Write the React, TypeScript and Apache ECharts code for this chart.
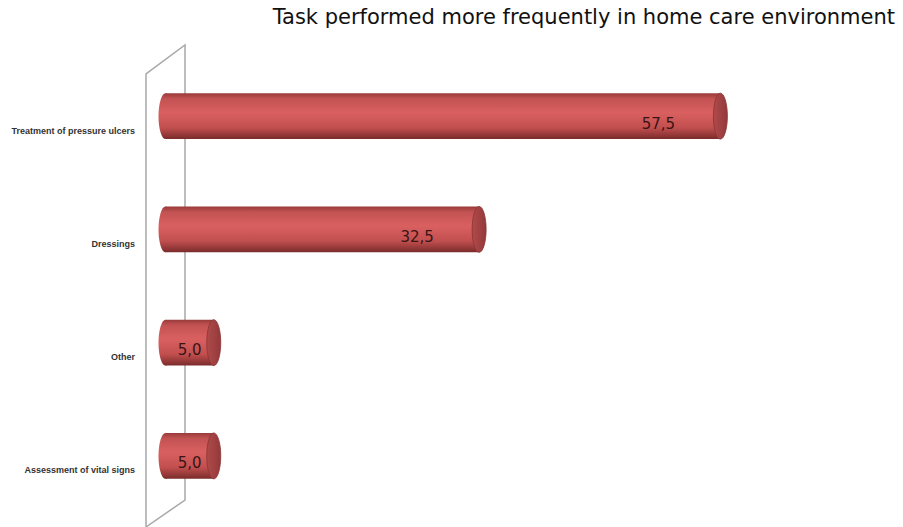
import React, { useEffect, useRef } from "react";
import * as echarts from "echarts";

const titleText = "Task performed more frequently in home care environment";
const categories = [
  "Treatment of pressure ulcers",
  "Dressings",
  "Other",
  "Assessment of vital signs",
];
const values = [57.5, 32.5, 5.0, 5.0];
const valueLabels = ["57,5", "32,5", "5,0", "5,0"];

export default function App() {
  const ref = useRef<HTMLDivElement>(null);
  useEffect(() => {
    if (!ref.current) return;
    const chart = echarts.init(ref.current, null, { renderer: "svg" });
    const depthX = 19.5;
    const depthY = -14.5;
    const bodyGrad = () =>
      new echarts.graphic.LinearGradient(0, 0, 0, 1, [
        { offset: 0, color: "#983a3a" },
        { offset: 0.12, color: "#c25252" },
        { offset: 0.42, color: "#da6060" },
        { offset: 0.75, color: "#c24f4f" },
        { offset: 1, color: "#7a2b2b" },
      ]);
    const capGrad = () =>
      new echarts.graphic.LinearGradient(0, 0, 1, 0, [
        { offset: 0, color: "#b04a4a" },
        { offset: 1, color: "#93393b" },
      ]);
    const option: any = {
      animation: false,
      title: {
        text: titleText,
        right: 3,
        top: 1,
        textStyle: {
          fontFamily: "DejaVu Sans",
          fontSize: 21,
          fontWeight: "normal",
          color: "#111",
        },
      },
      grid: { left: 146, top: 74, height: 454, width: 579 },
      xAxis: { type: "value", min: 0, max: 60, show: false },
      yAxis: {
        type: "category",
        inverse: true,
        data: categories,
        axisLine: { show: false },
        axisTick: { show: false },
        splitLine: { show: false },
        axisLabel: {
          margin: 11,
          fontSize: 9,
          fontWeight: "bold",
          fontFamily: "Liberation Sans",
          color: "#333",
        },
      },
      graphic: [
        {
          type: "polyline",
          z: 0,
          shape: { points: [[146, 527], [146, 74], [185, 45], [185, 500], [146, 527]] },
          style: { stroke: "#a8a8a8", lineWidth: 1.5, fill: "none" },
        },
      ],
      series: [
        {
          type: "custom",
          z: 5,
          data: values.map((v, i) => [v, i]),
          encode: { x: 0, y: 1 },
          renderItem: (params: any, api: any) => {
            const v = api.value(0);
            const idx = api.value(1);
            const s = api.coord([0, idx]);
            const e = api.coord([v, idx]);
            const band = api.size([0, 1])[1];
            const ry = band * 0.203;
            const rx = 7;
            const x0 = s[0] + depthX;
            const x1 = e[0] + depthX;
            const cy = s[1] + depthY;
            const len = x1 - x0;
            const labelX = x0 + Math.max(len * 0.5, len - 62);
            return {
              type: "group",
              children: [
                {
                  type: "ellipse",
                  shape: { cx: x0, cy, rx, ry },
                  style: { fill: bodyGrad() },
                },
                {
                  type: "rect",
                  shape: { x: x0, y: cy - ry, width: len, height: ry * 2 },
                  style: { fill: bodyGrad() },
                },
                {
                  type: "ellipse",
                  shape: { cx: x1, cy, rx, ry },
                  style: { fill: capGrad(), stroke: "#8a3334", lineWidth: 0.8 },
                },
                {
                  type: "text",
                  style: {
                    x: labelX,
                    y: cy + 7.5,
                    text: valueLabels[params.dataIndex],
                    fill: "#3a1414",
                    fontSize: 15,
                    fontFamily: "DejaVu Sans",
                    align: "center",
                    verticalAlign: "middle",
                  },
                },
              ],
            };
          },
        },
      ],
    };
    chart.setOption(option);
    return () => chart.dispose();
  }, []);
  return (
    <div
      ref={ref}
      style={{ position: "absolute", left: 0, top: 0, width: 903, height: 527 }}
    />
  );
}
